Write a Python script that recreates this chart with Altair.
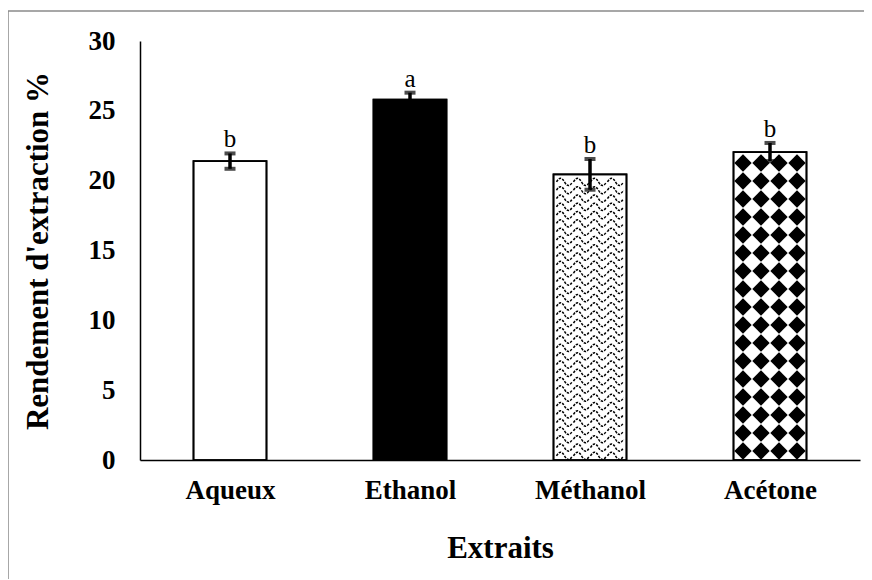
import altair as alt
import pandas as pd
import numpy as np

categories = ["Aqueux", "Ethanol", "Méthanol", "Acétone"]
means = [21.4, 25.8, 20.45, 22.05]
errors = [0.55, 0.5, 1.1, 0.65]
letters = ["b", "a", "b", "b"]

FONT = "Liberation Serif"
W, H = 720, 419
YMAX = 30
PPU_Y = H / YMAX          # px per y unit
PPU_X = W / len(categories)  # px per x unit
HALF = 36.5 / PPU_X       # half bar width in x units

centers = [i + 0.5 for i in range(len(categories))]
df = pd.DataFrame({
    "cat": categories, "c": centers, "mean": means, "err": errors, "letter": letters,
})
df["x1"] = df["c"] - HALF
df["x2"] = df["c"] + HALF
df["lo"] = df["mean"] - df["err"]
df["hi"] = df["mean"] + df["err"]

# decorative fill patterns (derived from bar extents)
wave_rows = []
i = categories.index("Méthanol")
r = 0
while (r + 0.5) * 8.3 + 3 < means[i] * PPU_Y:
    for off in [-25.5, -8.5, 8.5, 25.5]:
        wave_rows.append({"x": centers[i] + off / PPU_X, "y": (r + 0.5) * 8.3 / PPU_Y})
    r += 1
waves = pd.DataFrame(wave_rows)

dia_rows = []
i = categories.index("Acétone")
r = 0
while r * 18 + 9 + 8 < means[i] * PPU_Y:
    for off in [-27, -9, 9, 27]:
        dia_rows.append({"x": centers[i] + off / PPU_X, "y": (r * 18 + 9) / PPU_Y})
    r += 1
dias = pd.DataFrame(dia_rows)

label_expr = "[" + ",".join("'%s'" % c for c in categories) + "][floor(datum.value)]"

xscale = alt.Scale(domain=[0, len(categories)], nice=False, zero=False)
yscale = alt.Scale(domain=[0, YMAX], nice=False)

xaxis = alt.Axis(
    values=centers, labelExpr=label_expr, ticks=False, grid=False,
    domainColor="black", domainWidth=1.5, labelFont=FONT, labelFontSize=27,
    labelFontWeight="bold", labelColor="black", labelPadding=17,
    title="Extraits", titleFont=FONT, titleFontSize=31, titleFontWeight="bold",
    titleColor="black", titleX=W / 2, titleY=88, titleBaseline="middle",
    titleAlign="center",
)
yaxis = alt.Axis(
    values=list(range(0, YMAX + 1, 5)), ticks=False, grid=False,
    domainColor="black", domainWidth=1.5, labelFont=FONT, labelFontSize=27,
    labelFontWeight="bold", labelColor="black", labelPadding=25,
    title="Rendement d'extraction %", titleFont=FONT, titleFontSize=31,
    titleFontWeight="bold", titleColor="black", titleX=-102, titleY=H / 2,
    titleBaseline="middle", titleAlign="center", titleAngle=-90,
)

base = alt.Chart(df)

bars = base.mark_rect(stroke="black", strokeWidth=1.7).encode(
    x=alt.X("x1:Q", scale=xscale, axis=xaxis),
    x2="x2:Q",
    y=alt.Y("mean:Q", scale=yscale, axis=yaxis),
    y2=alt.datum(0),
    fill=alt.condition(alt.datum.cat == "Ethanol", alt.value("black"), alt.value("white")),
)

wave_layer = alt.Chart(waves).mark_point(
    shape="M-1,0 C-0.66,-0.6 -0.33,-0.6 0,0 C0.33,0.6 0.66,0.6 1,0",
    filled=False, stroke="black", strokeWidth=1.5, strokeDash=[2.5, 1.2],
    size=256, opacity=1,
).encode(x=alt.X("x:Q", scale=xscale), y=alt.Y("y:Q", scale=yscale))

dia_layer = alt.Chart(dias).mark_point(
    shape="diamond", filled=True, color="black", size=300, opacity=1,
).encode(x=alt.X("x:Q", scale=xscale), y=alt.Y("y:Q", scale=yscale))

outline = base.mark_rect(fill=None, stroke="black", strokeWidth=1.7).encode(
    x=alt.X("x1:Q", scale=xscale), x2="x2:Q",
    y=alt.Y("mean:Q", scale=yscale), y2=alt.datum(0),
)

err_line = base.mark_rule(color="black", strokeWidth=3.5).encode(
    x=alt.X("c:Q", scale=xscale), y=alt.Y("lo:Q", scale=yscale), y2="hi:Q",
)
cap_hi = base.mark_tick(color="black", orient="horizontal", size=11, thickness=4).encode(
    x=alt.X("c:Q", scale=xscale), y=alt.Y("hi:Q", scale=yscale),
)
cap_lo = base.mark_tick(color="black", orient="horizontal", size=11, thickness=4).encode(
    x=alt.X("c:Q", scale=xscale), y=alt.Y("lo:Q", scale=yscale),
)

letter_layer = base.mark_text(
    font=FONT, fontSize=25, color="black", baseline="alphabetic", dy=-6,
).encode(
    x=alt.X("c:Q", scale=xscale), y=alt.Y("hi:Q", scale=yscale), text="letter:N",
)

frame_left = alt.Chart(df.head(1)).mark_rule(color="#8a8a8a", strokeWidth=1.5).encode(
    x=alt.value(-132), y=alt.value(-30), y2=alt.value(H + 130),
)
frame_top = alt.Chart(df.head(1)).mark_rule(color="#8a8a8a", strokeWidth=1.5).encode(
    x=alt.value(-132), x2=alt.value(W + 10), y=alt.value(-30),
)

chart = alt.layer(
    frame_left, frame_top, bars, wave_layer, dia_layer, outline,
    err_line, cap_hi, cap_lo, letter_layer,
).properties(
    width=W, height=H,
    autosize=alt.AutoSizeParams(type="none"),
    padding={"left": 132, "top": 33, "right": 4, "bottom": 119},
    background="white",
).configure_view(stroke=None)

chart.save("out.html", embed_options={"renderer": "svg", "actions": False})
